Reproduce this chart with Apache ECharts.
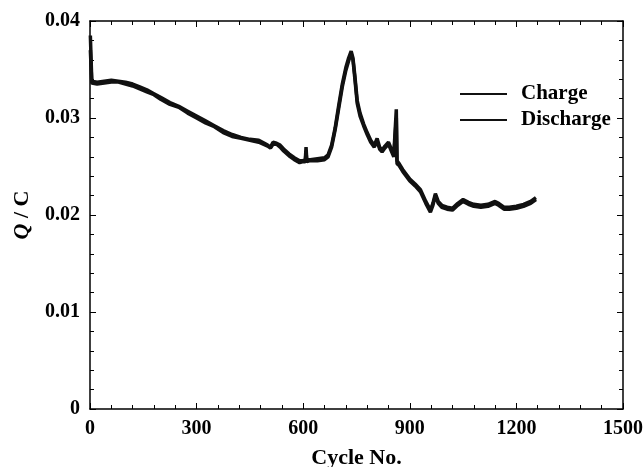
<!DOCTYPE html>
<html>
<head>
<meta charset="utf-8">
<script src="https://cdn.jsdelivr.net/npm/echarts@6/dist/echarts.min.js"></script>
<style>
html,body{margin:0;padding:0;background:#fff;}
</style>
</head>
<body>
<div id="Echartone" style="width:643px;height:467px"></div>
<script type="text/javascript">
// 循环次数
var cycles = [1,5,20,40,60,80,100,120,140,160,180,200,225,250,275,300,325,350,375,400,425,450,475,500,508,515,525,535,545,560,575,590,600,606,608,610,620,640,660,670,680,690,700,710,720,728,735,740,745,752,760,770,780,790,800,808,815,822,830,840,848,855,860,862,864,870,880,890,900,915,930,945,958,965,972,980,990,1005,1020,1035,1050,1065,1080,1100,1120,1140,1150,1165,1180,1200,1220,1240,1255];
// Charge 电量
var chargeQ = [0.0385,0.0338,0.0337,0.0338,0.0339,0.0338,0.0337,0.0335,0.0332,0.0329,0.0325,0.0321,0.0316,0.0312,0.0307,0.0302,0.0297,0.0292,0.0287,0.0283,0.0280,0.0278,0.0277,0.0272,0.0270,0.0275,0.0274,0.0272,0.0268,0.0263,0.0259,0.0256,0.0256,0.0257,0.0270,0.0257,0.0257,0.0258,0.0259,0.0262,0.0272,0.0290,0.0313,0.0335,0.0352,0.0362,0.0369,0.0362,0.0345,0.0318,0.0305,0.0294,0.0285,0.0277,0.0272,0.0279,0.0270,0.0267,0.0271,0.0275,0.0268,0.0262,0.0260,0.0309,0.0256,0.0253,0.0247,0.0242,0.0237,0.0232,0.0226,0.0214,0.0205,0.0212,0.0222,0.0214,0.0210,0.0208,0.0207,0.0212,0.0216,0.0213,0.0211,0.0210,0.0211,0.0214,0.0212,0.0208,0.0208,0.0209,0.0211,0.0214,0.0218];
// Discharge 电量
var dischargeQ = [0.0370,0.0336,0.0335,0.0336,0.0337,0.0337,0.0335,0.0333,0.0330,0.0327,0.0324,0.0319,0.0314,0.0311,0.0305,0.0300,0.0295,0.0291,0.0285,0.0281,0.0279,0.0277,0.0275,0.0271,0.0269,0.0273,0.0273,0.0270,0.0266,0.0261,0.0257,0.0254,0.0255,0.0255,0.0266,0.0255,0.0256,0.0256,0.0257,0.0260,0.0270,0.0288,0.0310,0.0332,0.0349,0.0359,0.0366,0.0360,0.0342,0.0315,0.0302,0.0292,0.0283,0.0275,0.0270,0.0276,0.0268,0.0265,0.0269,0.0273,0.0266,0.0260,0.0258,0.0300,0.0253,0.0251,0.0245,0.0240,0.0235,0.0230,0.0224,0.0212,0.0203,0.0210,0.0220,0.0212,0.0208,0.0206,0.0205,0.0210,0.0214,0.0211,0.0209,0.0208,0.0209,0.0212,0.0210,0.0206,0.0206,0.0207,0.0209,0.0212,0.0216];

var font = 'Liberation Serif';

function pairs(vals){
	var out = [];
	for(var i=0; i<cycles.length; i++){
		out.push([cycles[i], vals[i]]);
	}
	return out;
}

var axisCommon = {
	axisLine : { onZero : false, lineStyle : { color : '#000', width : 1.5 } },
	axisTick : { inside : true, length : 6, lineStyle : { color : '#000', width : 1 } },
	minorTick : { show : true, length : 4, splitNumber : 5, lineStyle : { color : '#000', width : 1 } },
	splitLine : { show : false }
};

var myChart1 = echarts.init(document.getElementById('Echartone'));
var option = {
	animation : false,
	grid : { left : 90, right : 20, top : 21, bottom : 58, outerBoundsMode : 'none', containLabel : false },
	legend : {
		orient : 'vertical',
		left : 455,
		top : 78,
		icon : 'rect',
		itemWidth : 47,
		itemHeight : 2,
		itemGap : 4,
		textStyle : { fontFamily : font, fontWeight : 'bold', fontSize : 21, color : '#000', lineHeight : 22, padding : [0,0,0,9] },
		data : ['Charge', 'Discharge']
	},
	xAxis : [
		echarts.util.merge({
			type : 'value', min : 0, max : 1500, interval : 300,
			name : 'Cycle No.', nameLocation : 'middle', nameGap : 38,
			nameTextStyle : { fontFamily : font, fontWeight : 'bold', fontSize : 22, color : '#000' },
			axisLabel : {
				fontFamily : font, fontWeight : 'bold', fontSize : 20, color : '#000', margin : 10,
				formatter : function(v){ return String(v); }
			}
		}, axisCommon, true),
		echarts.util.merge({
			type : 'value', min : 0, max : 1500, interval : 300, position : 'top',
			axisLabel : { show : false }
		}, axisCommon, true)
	],
	yAxis : [
		echarts.util.merge({
			type : 'value', min : 0, max : 0.04, interval : 0.01,
			name : '{i|Q} / C', nameLocation : 'middle', nameGap : 57, nameMoveOverlap : false,
			nameTextStyle : {
				fontFamily : font, fontWeight : 'bold', fontSize : 22, color : '#000',
				rich : { i : { fontFamily : font, fontWeight : 'bold', fontStyle : 'italic', fontSize : 22, color : '#000' } }
			},
			axisLabel : {
				fontFamily : font, fontWeight : 'bold', fontSize : 20, color : '#000', margin : 10,
				formatter : function(v){ return v === 0 ? '0' : v.toFixed(2); }
			}
		}, axisCommon, true),
		echarts.util.merge({
			type : 'value', min : 0, max : 0.04, interval : 0.01, position : 'right',
			axisLabel : { show : false }
		}, axisCommon, true)
	],
	series : [
		{
			name : 'Charge', type : 'line', data : pairs(chargeQ),
			showSymbol : false, symbol : 'none',
			lineStyle : { color : '#111', width : 3.5 }, itemStyle : { color : '#111' }
		},
		{
			name : 'Discharge', type : 'line', data : pairs(dischargeQ),
			showSymbol : false, symbol : 'none',
			lineStyle : { color : '#111', width : 3.5 }, itemStyle : { color : '#111' }
		}
	]
};
myChart1.setOption(option);
</script>
</body>
</html>
